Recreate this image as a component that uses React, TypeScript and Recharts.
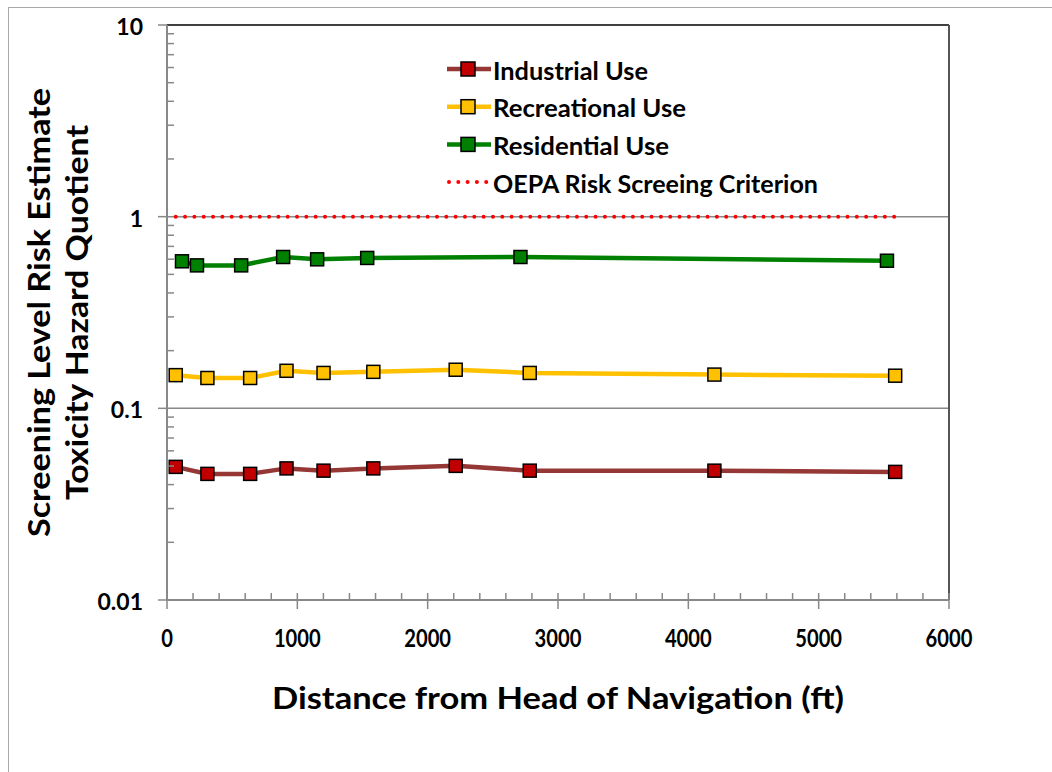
import React from "react";
import { Legend, Line, LineChart, ReferenceLine, XAxis, YAxis, Label } from "recharts";

// distance (ft) of each sampling point
const residentialDistance = [115, 230, 569, 891, 1152, 1536, 2712, 5524];
const sampleDistance = [67, 310, 638, 917, 1201, 1583, 2215, 2783, 4200, 5587];

// hazard quotients
const residentialHQ = [0.585, 0.557, 0.557, 0.616, 0.599, 0.609, 0.616, 0.589];
const recreationalHQ = [0.149, 0.144, 0.144, 0.157, 0.153, 0.155, 0.159, 0.153, 0.15, 0.148];
const industrialHQ = [0.0495, 0.0455, 0.0455, 0.0486, 0.0473, 0.0486, 0.0501, 0.0473, 0.0473, 0.0466];

const criterionDistance = [67, 5587];
const criterionHQ = [1, 1];

const yMajorTicks = [0.01, 0.1, 1, 10];
const yMinorTicks = [
  0.02, 0.03, 0.04, 0.05, 0.06, 0.07, 0.08, 0.09,
  0.2, 0.3, 0.4, 0.5, 0.6, 0.7, 0.8, 0.9,
  2, 3, 4, 5, 6, 7, 8, 9,
];
const xMajorTicks = [0, 1000, 2000, 3000, 4000, 5000, 6000];
const xMinorTicks = [
  200, 400, 600, 800, 1200, 1400, 1600, 1800, 2200, 2400, 2600, 2800,
  3200, 3400, 3600, 3800, 4200, 4400, 4600, 4800, 5200, 5400, 5600, 5800,
];

const FONT = "Lato, 'Open Sans', sans-serif";
const AXIS_GREY = "#888888";

const legendItems = [
  { name: "Industrial Use", line: "#953735", fill: "#C00000", dotted: false, width: 155 },
  { name: "Recreational Use", line: "#FFC000", fill: "#FFC000", dotted: false, width: 193 },
  { name: "Residential Use", line: "#008000", fill: "#008000", dotted: false, width: 176 },
  { name: "OEPA Risk Screeing Criterion", line: "#FF0000", fill: "", dotted: true, width: 325 },
];

const toPoints = (xs: number[], ys: number[]) => xs.map((x, i) => ({ x, y: ys[i] }));

const squareDot = (fill: string) => (props: any) => {
  const { cx, cy, index } = props;
  if (cx == null || cy == null) return <g key={`d-${index}`} />;
  return (
    <rect
      key={`d-${index}`}
      x={cx - 6.5}
      y={cy - 6.5}
      width={13}
      height={13}
      fill={fill}
      stroke="#000"
      strokeWidth={1.5}
    />
  );
};

function YTick(props: any) {
  const { x, y, payload } = props;
  const major = yMajorTicks.includes(payload.value);
  return (
    <g>
      {major ? (
        <>
          <line x1={x - 9} x2={x} y1={y} y2={y} stroke={AXIS_GREY} strokeWidth={1.5} />
          <text
            x={x - 24}
            y={y + 1}
            textAnchor="end"
            dominantBaseline="central"
            fontFamily={FONT}
            fontWeight="bold"
            fontSize={23}
            fill="#000"
          >
            {String(payload.value)}
          </text>
        </>
      ) : (
        <line x1={x} x2={x + 7} y1={y} y2={y} stroke={AXIS_GREY} strokeWidth={1.5} />
      )}
    </g>
  );
}

function XTick(props: any) {
  const { x, y, payload } = props;
  const major = xMajorTicks.includes(payload.value);
  const label = String(payload.value);
  return (
    <g>
      {major ? (
        <>
          <line x1={x} x2={x} y1={y - 7} y2={y + 9} stroke={AXIS_GREY} strokeWidth={1.5} />
          <text
            x={x}
            y={y + 37}
            textAnchor="middle"
            dominantBaseline="central"
            fontFamily={FONT}
            fontWeight="bold"
            fontSize={24}
            textLength={label.length * 11.7}
            lengthAdjust="spacingAndGlyphs"
            fill="#000"
          >
            {label}
          </text>
        </>
      ) : (
        <line x1={x} x2={x} y1={y - 7} y2={y} stroke={AXIS_GREY} strokeWidth={1.5} />
      )}
    </g>
  );
}

function LegendBox() {
  const rowH = 37.7;
  return (
    <svg width={420} height={152} style={{ display: "block" }}>
      {legendItems.map((item, i) => {
        const cy = 19 + i * rowH;
        return (
          <g key={item.name}>
            {item.dotted ? (
              <line
                x1={2}
                x2={40}
                y1={cy}
                y2={cy}
                stroke={item.line}
                strokeWidth={4}
                strokeLinecap="round"
                strokeDasharray="0 9.3"
              />
            ) : (
              <>
                <line x1={0} x2={44} y1={cy} y2={cy} stroke={item.line} strokeWidth={4.5} />
                <rect x={14} y={cy - 7} width={14} height={14} fill={item.fill} stroke="#000" strokeWidth={1.5} />
              </>
            )}
            <text
              x={46}
              y={cy + 1}
              dominantBaseline="central"
              fontFamily={FONT}
              fontWeight="bold"
              fontSize={24}
              textLength={item.width}
              lengthAdjust="spacingAndGlyphs"
              fill="#000"
            >
              {item.name}
            </text>
          </g>
        );
      })}
    </svg>
  );
}

export default function App() {
  return (
    <div style={{ position: "absolute", left: 0, top: 0, width: 1052, height: 772, background: "#fff" }}>
      <div
        style={{
          position: "absolute",
          left: 8,
          top: 7,
          width: 1043,
          height: 764,
          borderTop: "1px solid #a8a8a8",
          borderLeft: "1px solid #a8a8a8",
        }}
      />
      <div style={{ position: "absolute", left: 0, top: 0 }}>
        <LineChart width={1052} height={772} margin={{ top: 25, right: 103, bottom: 112, left: 107 }}>
          <XAxis
            dataKey="x"
            type="number"
            domain={[0, 6000]}
            ticks={[...xMajorTicks, ...xMinorTicks].sort((a, b) => a - b)}
            interval={0}
            tickSize={0}
            tickMargin={0}
            tickLine={false}
            tick={<XTick />}
            axisLine={{ stroke: AXIS_GREY, strokeWidth: 2 }}
            height={60}
            allowDataOverflow
          >
            <Label
              content={(p: any) => {
                const vb = p.viewBox || { x: 167, y: 600, width: 782, height: 60 };
                return (
                  <text
                    x={vb.x + vb.width / 2}
                    y={vb.y + 97}
                    textAnchor="middle"
                    dominantBaseline="central"
                    fontFamily={FONT}
                    fontWeight="bold"
                    fontSize={31}
                    textLength={572}
                    lengthAdjust="spacingAndGlyphs"
                    fill="#000"
                  >
                    Distance from Head of Navigation (ft)
                  </text>
                );
              }}
            />
          </XAxis>
          <YAxis
            dataKey="y"
            type="number"
            scale="log"
            domain={[0.01, 10]}
            ticks={[...yMajorTicks, ...yMinorTicks].sort((a, b) => a - b)}
            interval={0}
            tickSize={0}
            tickMargin={0}
            tickLine={false}
            tick={<YTick />}
            axisLine={{ stroke: AXIS_GREY, strokeWidth: 2 }}
            width={60}
            allowDataOverflow
          >
            <Label
              content={(p: any) => {
                const vb = p.viewBox || { x: 107, y: 25, width: 60, height: 575 };
                const cy = vb.y + vb.height / 2;
                const x1 = vb.x - 69;
                const x2 = vb.x - 31;
                return (
                  <g fontFamily={FONT} fontWeight="bold" fontSize={31} fill="#000">
                    <text
                      x={x1}
                      y={cy}
                      textAnchor="middle"
                      dominantBaseline="central"
                      transform={`rotate(-90, ${x1}, ${cy})`}
                      textLength={449}
                      lengthAdjust="spacingAndGlyphs"
                    >
                      Screening Level Risk Estimate
                    </text>
                    <text
                      x={x2}
                      y={cy}
                      textAnchor="middle"
                      dominantBaseline="central"
                      transform={`rotate(-90, ${x2}, ${cy})`}
                      textLength={375}
                      lengthAdjust="spacingAndGlyphs"
                    >
                      Toxicity Hazard Quotient
                    </text>
                  </g>
                );
              }}
            />
          </YAxis>
          <ReferenceLine y={1} stroke={AXIS_GREY} strokeWidth={1.5} />
          <ReferenceLine y={0.1} stroke={AXIS_GREY} strokeWidth={1.5} />
          <ReferenceLine y={10} stroke="#000" strokeWidth={1.5} />
          <ReferenceLine x={6000} stroke="#555" strokeWidth={2} />
          <Legend
            layout="vertical"
            align="center"
            verticalAlign="middle"
            wrapperStyle={{ left: 447, top: 50, width: 420, height: 152 }}
            content={() => <LegendBox />}
          />
          <Line
            name="OEPA Risk Screeing Criterion"
            data={toPoints(criterionDistance, criterionHQ)}
            dataKey="y"
            stroke="#FF0000"
            strokeWidth={4}
            strokeLinecap="round"
            strokeDasharray="0 9.33"
            dot={false}
            activeDot={false}
            isAnimationActive={false}
          />
          <Line
            name="Industrial Use"
            data={toPoints(sampleDistance, industrialHQ)}
            dataKey="y"
            stroke="#953735"
            strokeWidth={4.5}
            dot={squareDot("#C00000")}
            activeDot={false}
            isAnimationActive={false}
          />
          <Line
            name="Recreational Use"
            data={toPoints(sampleDistance, recreationalHQ)}
            dataKey="y"
            stroke="#FFC000"
            strokeWidth={4.5}
            dot={squareDot("#FFC000")}
            activeDot={false}
            isAnimationActive={false}
          />
          <Line
            name="Residential Use"
            data={toPoints(residentialDistance, residentialHQ)}
            dataKey="y"
            stroke="#008000"
            strokeWidth={4.5}
            dot={squareDot("#008000")}
            activeDot={false}
            isAnimationActive={false}
          />
        </LineChart>
      </div>
    </div>
  );
}
